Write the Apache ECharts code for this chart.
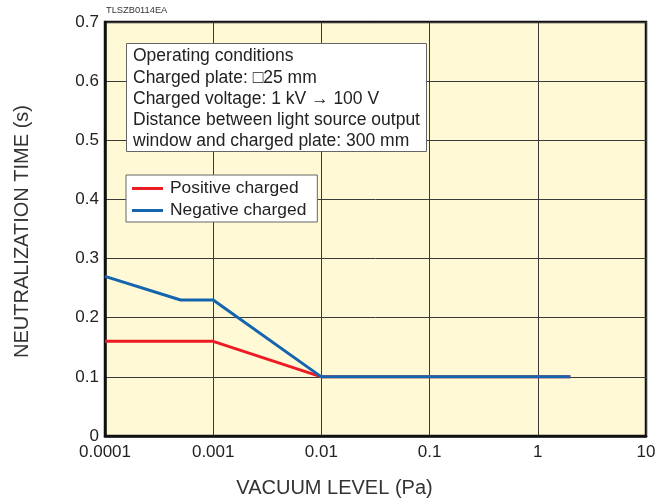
<!DOCTYPE html>
<html>
<head>
  <meta charset="utf-8">
  <title>Neutralization time vs vacuum level</title>
  <script src="https://cdn.jsdelivr.net/npm/echarts@6/dist/echarts.min.js"></script>
  <style>
    html, body { margin: 0; padding: 0; background: #fff; }
    #chart { width: 669px; height: 504px; }
  </style>
</head>
<body>
<div id="chart"></div>
<script>
// values
var posX = [0.0001, 0.001, 0.01, 2];
var posY = [0.16, 0.16, 0.1, 0.1];
var negX = [0.0001, 0.0005, 0.001, 0.01, 2];
var negY = [0.27, 0.23, 0.23, 0.1, 0.1];
var seriesNames = ["Positive charged", "Negative charged"];
var noteLines = [
    "Operating conditions",
    "Charged plate: \u25A125 mm",
    "Charged voltage: 1 kV \u2192 100 V",
    "Distance between light source output",
    "window and charged plate: 300 mm"
];

function pairs(xs, ys) {
    return xs.map(function(x, i) { return [x, ys[i]]; });
}

var font = "Liberation Sans, Arial, sans-serif";
var myChart = echarts.init(document.getElementById("chart"));
var option = {
    animation: false,
    textStyle: { fontFamily: font },
    grid: {
        left: 105,
        right: 23,
        top: 22,
        bottom: 68,
        show: true,
        backgroundColor: "#FFF9D6",
        borderColor: "#111",
        borderWidth: 2.5
    },
    xAxis: {
        type: "log",
        logBase: 10,
        min: 0.0001,
        max: 10,
        axisLine: { lineStyle: { color: "#111", width: 2.5 } },
        axisTick: { show: false },
        splitLine: { lineStyle: { color: "#3a3a3a", width: 1 } },
        axisLabel: {
            fontSize: 17,
            color: "#222",
            margin: 8,
            formatter: function(v) { return String(+v.toPrecision(1)); }
        }
    },
    yAxis: {
        type: "value",
        min: 0,
        max: 0.7,
        interval: 0.1,
        axisLine: { show: true, lineStyle: { color: "#111", width: 2.5 } },
        axisTick: { show: false },
        splitLine: { lineStyle: { color: "#3a3a3a", width: 1 } },
        axisLabel: {
            fontSize: 17,
            color: "#222",
            margin: 6,
            formatter: function(v) { return String(+v.toFixed(1)); }
        }
    },
    legend: {
        orient: "vertical",
        left: 126,
        top: 175,
        icon: "rect",
        itemWidth: 31,
        itemHeight: 3,
        itemGap: 5,
        padding: [5, 11, 3, 6],
        backgroundColor: "#fff",
        borderColor: "#666",
        borderWidth: 1,
        borderRadius: 0,
        textStyle: { fontSize: 17.4, lineHeight: 17, color: "#222", padding: [0, 0, 0, 2] },
        data: seriesNames
    },
    graphic: [{
        type: "text",
        left: 106,
        top: 6,
        style: { text: "TLSZB0114EA", fill: "#333", font: "9.3px " + font }
    }, {
        type: "rect",
        shape: { x: 126.5, y: 43.5, width: 300, height: 108 },
        style: { fill: "#fff", stroke: "#666", lineWidth: 1 },
        z: 10
    }, {
        type: "text",
        left: 133,
        top: 46,
        z: 11,
        style: {
            text: noteLines.join("\n"),
            font: "17.5px " + font,
            lineHeight: 21.2,
            fill: "#222"
        }
    }, {
        type: "text",
        left: "center",
        top: 478,
        style: { text: "VACUUM LEVEL (Pa)", font: "20px " + font, fill: "#333" },
        x: 41
    }, {
        type: "text",
        rotation: Math.PI / 2,
        x: 12,
        y: 358,
        style: { text: "NEUTRALIZATION TIME (s)", font: "20px " + font, fill: "#333" }
    }],
    series: [{
        name: seriesNames[0],
        type: "line",
        data: pairs(posX, posY),
        showSymbol: false,
        lineStyle: { color: "#ED1C24", width: 3 },
        itemStyle: { color: "#ED1C24" }
    }, {
        name: seriesNames[1],
        type: "line",
        data: pairs(negX, negY),
        showSymbol: false,
        lineStyle: { color: "#1565AE", width: 3 },
        itemStyle: { color: "#1565AE" }
    }]
};
myChart.setOption(option);
</script>
</body>
</html>
